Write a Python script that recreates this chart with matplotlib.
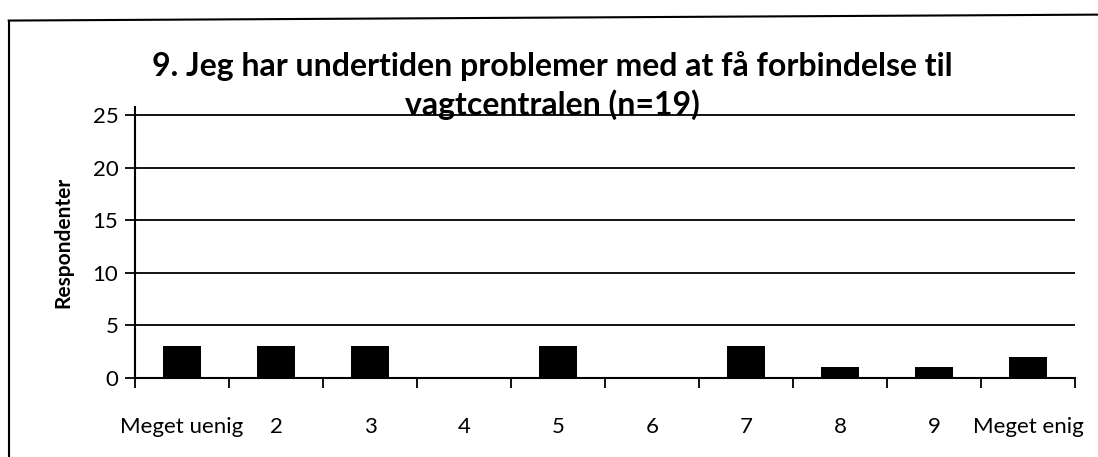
import matplotlib.pyplot as plt
from matplotlib.lines import Line2D

categories = ['Meget uenig', '2', '3', '4', '5', '6', '7', '8', '9', 'Meget enig']
respondents = [3, 3, 3, 0, 3, 0, 3, 1, 1, 2]
yticks = [0, 5, 10, 15, 20, 25]
title = '9. Jeg har undertiden problemer med at få forbindelse til\nvagtcentralen (n=19)'

plt.rcParams['font.family'] = ['Lato', 'DejaVu Sans']

fig = plt.figure(figsize=(10.98, 4.57), dpi=100)
ax = fig.add_axes([0.123, 0.173, 0.856, 0.593])

x = list(range(len(categories)))
ax.bar(x, respondents, width=0.4, color='black', zorder=3)

ax.set_xlim(-0.5, len(categories) - 0.5)
ax.set_ylim(0, 25.8)
ax.set_yticks(yticks)
ax.set_yticklabels([str(t) for t in yticks], fontsize=16)
ax.yaxis.grid(True, color='black', linewidth=1.3)
ax.set_axisbelow(True)

# category labels centred, tick marks on the boundaries
ax.set_xticks(x)
ax.set_xticklabels(categories, fontsize=16)
ax.tick_params(axis='x', which='major', length=0, pad=28)
ax.set_xticks([i - 0.5 for i in range(len(categories) + 1)], minor=True)
ax.tick_params(axis='x', which='minor', length=7, width=1.3, direction='out')
ax.tick_params(axis='y', length=7, width=1.3, direction='out', pad=5)

for side in ['top', 'right']:
    ax.spines[side].set_visible(False)
ax.spines['left'].set_linewidth(1.5)
ax.spines['bottom'].set_linewidth(1.5)

ax.set_ylabel('Respondenter', fontsize=15, fontweight='bold', labelpad=14)

fig.text(0.503, 0.738, title, ha='center', va='bottom', fontsize=23,
         fontweight='bold', linespacing=1.3)

# chart area border (left and top edges visible in the scan)
fig.add_artist(Line2D([0.008, 0.008], [0.0, 0.955], color='black', linewidth=1.5))
fig.add_artist(Line2D([0.008, 1.0], [0.955, 0.968], color='black', linewidth=1.5))

fig.savefig('out.png', dpi=100)
